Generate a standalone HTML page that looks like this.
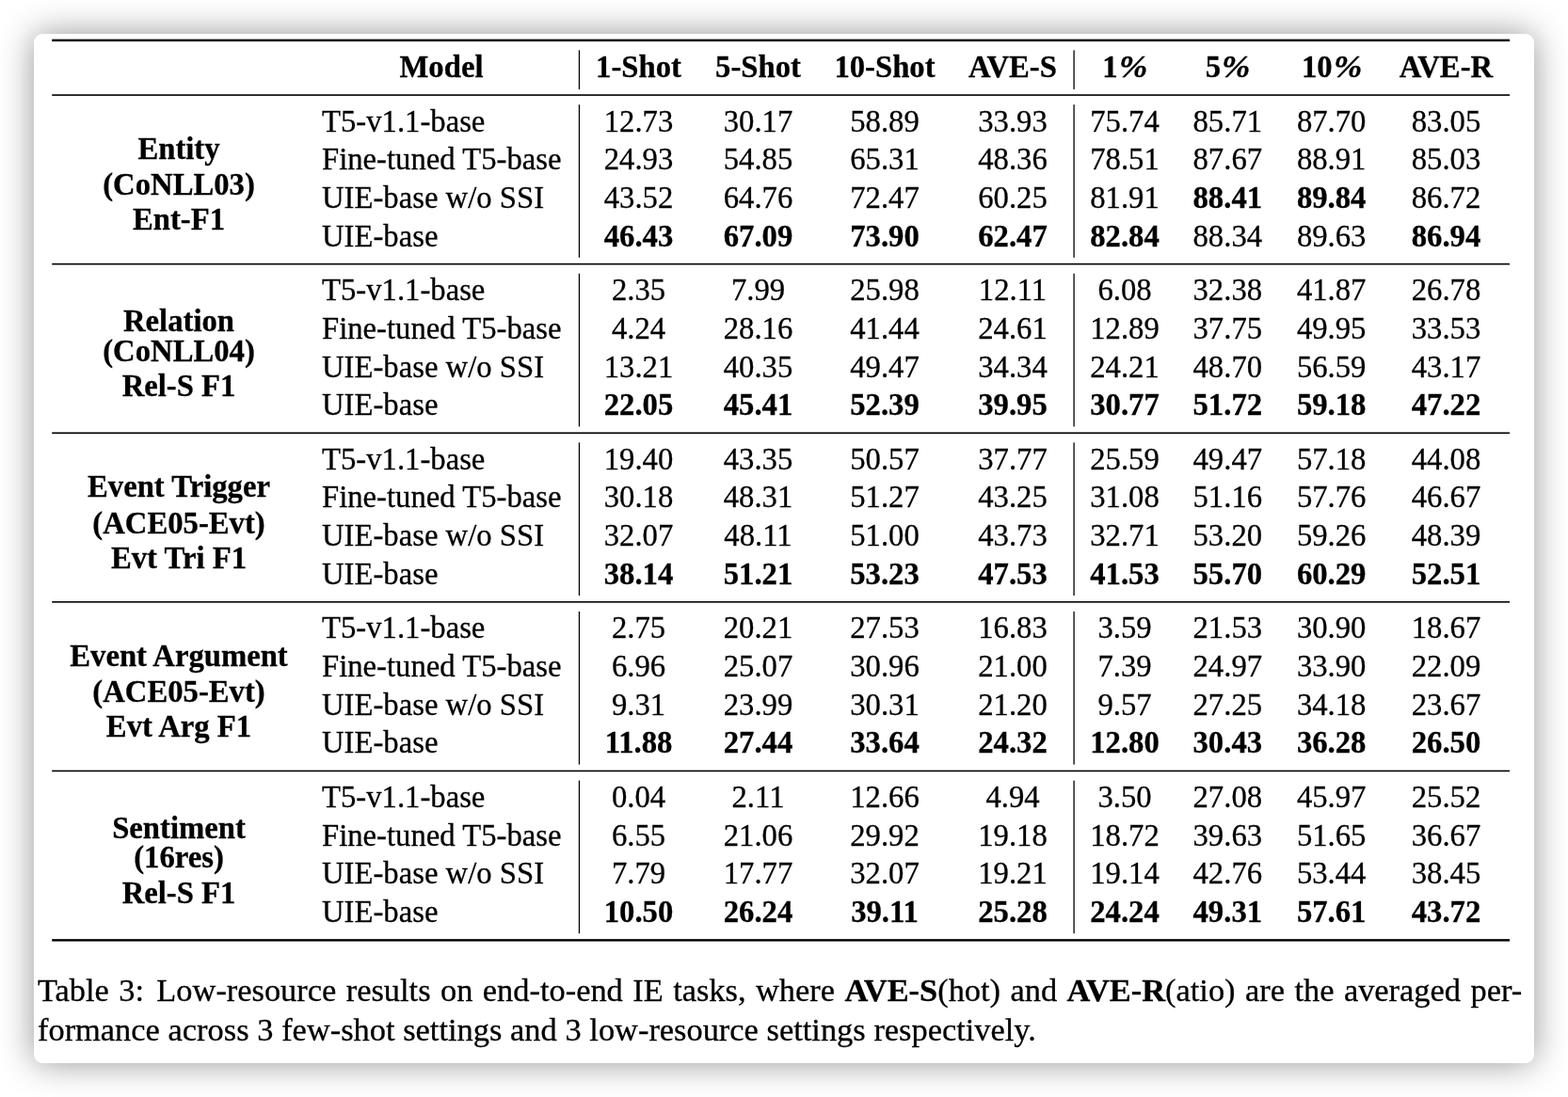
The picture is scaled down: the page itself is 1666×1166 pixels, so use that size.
<!DOCTYPE html>
<html lang="en">
<head>
<meta charset="utf-8">
<title>Table 3</title>
<style>
html,body{margin:0;padding:0;}
body{width:1666px;height:1166px;background:#fff;position:relative;overflow:hidden;
 font-family:"Liberation Serif","Times New Roman",serif;color:#000;-webkit-text-stroke:0.3px #000;}
.card{position:absolute;left:36px;top:36px;width:1594px;height:1094px;background:#fff;border-radius:9px;
 box-shadow:0 0 36px rgba(0,0,0,.42);}
.t{position:absolute;font-size:32.7px;line-height:40px;height:40px;white-space:nowrap;}
.b{font-weight:bold;}
.c{text-align:center;}
.rules{position:absolute;left:0;top:0;}
.pc{display:inline-block;font-size:1.04em;font-style:italic;margin-left:1px;margin-right:1.6px;line-height:0;transform:scaleX(1.07);transform-origin:0 50%;}
.cap{position:absolute;font-size:34.4px;line-height:44px;height:44px;white-space:nowrap;}
.cs{display:inline-block;width:2.8px;}
</style>
</head>
<body>
<div class="card"></div>
<svg class="rules" width="1666" height="1166" viewBox="0 0 1666 1166" fill="#000">
<rect x="55.2" y="41.65" width="1548.80" height="2.4"/>
<rect x="55.2" y="100.25" width="1548.80" height="1.6"/>
<rect x="55.2" y="279.85" width="1548.80" height="1.6"/>
<rect x="55.2" y="459.45" width="1548.80" height="1.6"/>
<rect x="55.2" y="639.05" width="1548.80" height="1.6"/>
<rect x="55.2" y="818.65" width="1548.80" height="1.6"/>
<rect x="55.2" y="998.15" width="1548.80" height="2.4"/>
<rect x="614.80" y="53.40" width="1.3" height="41.50"/>
<rect x="614.80" y="111.20" width="1.3" height="162.60"/>
<rect x="614.80" y="290.80" width="1.3" height="162.60"/>
<rect x="614.80" y="470.40" width="1.3" height="162.60"/>
<rect x="614.80" y="650.00" width="1.3" height="162.60"/>
<rect x="614.80" y="829.60" width="1.3" height="162.60"/>
<rect x="1140.45" y="53.40" width="1.3" height="41.50"/>
<rect x="1140.45" y="111.20" width="1.3" height="162.60"/>
<rect x="1140.45" y="290.80" width="1.3" height="162.60"/>
<rect x="1140.45" y="470.40" width="1.3" height="162.60"/>
<rect x="1140.45" y="650.00" width="1.3" height="162.60"/>
<rect x="1140.45" y="829.60" width="1.3" height="162.60"/>
</svg>
<div class="t b c" style="left:269.00px;top:50.96px;width:400px">Model</div>
<div class="t b c" style="left:478.50px;top:50.96px;width:400px">1-Shot</div>
<div class="t b c" style="left:605.50px;top:50.96px;width:400px">5-Shot</div>
<div class="t b c" style="left:740.00px;top:50.96px;width:400px">10-Shot</div>
<div class="t b c" style="left:876.00px;top:50.96px;width:400px">AVE-S</div>
<div class="t b c" style="left:995.00px;top:50.96px;width:400px">1<span class="pc">%</span></div>
<div class="t b c" style="left:1104.30px;top:50.96px;width:400px">5<span class="pc">%</span></div>
<div class="t b c" style="left:1214.70px;top:50.96px;width:400px">10<span class="pc">%</span></div>
<div class="t b c" style="left:1336.50px;top:50.96px;width:400px">AVE-R</div>
<div class="t b c" style="left:-10.00px;top:137.56px;width:400px">Entity</div>
<div class="t b c" style="left:-10.00px;top:176.16px;width:400px">(CoNLL03)</div>
<div class="t b c" style="left:-10.00px;top:213.46px;width:400px">Ent-F1</div>
<div class="t" style="left:342.00px;top:108.56px">T5-v1.1-base</div>
<div class="t c" style="left:478.50px;top:108.56px;width:400px">12.73</div>
<div class="t c" style="left:605.50px;top:108.56px;width:400px">30.17</div>
<div class="t c" style="left:740.00px;top:108.56px;width:400px">58.89</div>
<div class="t c" style="left:876.00px;top:108.56px;width:400px">33.93</div>
<div class="t c" style="left:995.00px;top:108.56px;width:400px">75.74</div>
<div class="t c" style="left:1104.30px;top:108.56px;width:400px">85.71</div>
<div class="t c" style="left:1214.70px;top:108.56px;width:400px">87.70</div>
<div class="t c" style="left:1336.50px;top:108.56px;width:400px">83.05</div>
<div class="t" style="left:342.00px;top:149.26px">Fine-tuned T5-base</div>
<div class="t c" style="left:478.50px;top:149.26px;width:400px">24.93</div>
<div class="t c" style="left:605.50px;top:149.26px;width:400px">54.85</div>
<div class="t c" style="left:740.00px;top:149.26px;width:400px">65.31</div>
<div class="t c" style="left:876.00px;top:149.26px;width:400px">48.36</div>
<div class="t c" style="left:995.00px;top:149.26px;width:400px">78.51</div>
<div class="t c" style="left:1104.30px;top:149.26px;width:400px">87.67</div>
<div class="t c" style="left:1214.70px;top:149.26px;width:400px">88.91</div>
<div class="t c" style="left:1336.50px;top:149.26px;width:400px">85.03</div>
<div class="t" style="left:342.00px;top:189.96px">UIE-base w/o SSI</div>
<div class="t c" style="left:478.50px;top:189.96px;width:400px">43.52</div>
<div class="t c" style="left:605.50px;top:189.96px;width:400px">64.76</div>
<div class="t c" style="left:740.00px;top:189.96px;width:400px">72.47</div>
<div class="t c" style="left:876.00px;top:189.96px;width:400px">60.25</div>
<div class="t c" style="left:995.00px;top:189.96px;width:400px">81.91</div>
<div class="t b c" style="left:1104.30px;top:189.96px;width:400px">88.41</div>
<div class="t b c" style="left:1214.70px;top:189.96px;width:400px">89.84</div>
<div class="t c" style="left:1336.50px;top:189.96px;width:400px">86.72</div>
<div class="t" style="left:342.00px;top:230.66px">UIE-base</div>
<div class="t b c" style="left:478.50px;top:230.66px;width:400px">46.43</div>
<div class="t b c" style="left:605.50px;top:230.66px;width:400px">67.09</div>
<div class="t b c" style="left:740.00px;top:230.66px;width:400px">73.90</div>
<div class="t b c" style="left:876.00px;top:230.66px;width:400px">62.47</div>
<div class="t b c" style="left:995.00px;top:230.66px;width:400px">82.84</div>
<div class="t c" style="left:1104.30px;top:230.66px;width:400px">88.34</div>
<div class="t c" style="left:1214.70px;top:230.66px;width:400px">89.63</div>
<div class="t b c" style="left:1336.50px;top:230.66px;width:400px">86.94</div>
<div class="t b c" style="left:-10.00px;top:320.86px;width:400px">Relation</div>
<div class="t b c" style="left:-10.00px;top:353.16px;width:400px">(CoNLL04)</div>
<div class="t b c" style="left:-10.00px;top:389.76px;width:400px">Rel-S F1</div>
<div class="t" style="left:342.00px;top:288.16px">T5-v1.1-base</div>
<div class="t c" style="left:478.50px;top:288.16px;width:400px">2.35</div>
<div class="t c" style="left:605.50px;top:288.16px;width:400px">7.99</div>
<div class="t c" style="left:740.00px;top:288.16px;width:400px">25.98</div>
<div class="t c" style="left:876.00px;top:288.16px;width:400px">12.11</div>
<div class="t c" style="left:995.00px;top:288.16px;width:400px">6.08</div>
<div class="t c" style="left:1104.30px;top:288.16px;width:400px">32.38</div>
<div class="t c" style="left:1214.70px;top:288.16px;width:400px">41.87</div>
<div class="t c" style="left:1336.50px;top:288.16px;width:400px">26.78</div>
<div class="t" style="left:342.00px;top:328.86px">Fine-tuned T5-base</div>
<div class="t c" style="left:478.50px;top:328.86px;width:400px">4.24</div>
<div class="t c" style="left:605.50px;top:328.86px;width:400px">28.16</div>
<div class="t c" style="left:740.00px;top:328.86px;width:400px">41.44</div>
<div class="t c" style="left:876.00px;top:328.86px;width:400px">24.61</div>
<div class="t c" style="left:995.00px;top:328.86px;width:400px">12.89</div>
<div class="t c" style="left:1104.30px;top:328.86px;width:400px">37.75</div>
<div class="t c" style="left:1214.70px;top:328.86px;width:400px">49.95</div>
<div class="t c" style="left:1336.50px;top:328.86px;width:400px">33.53</div>
<div class="t" style="left:342.00px;top:369.56px">UIE-base w/o SSI</div>
<div class="t c" style="left:478.50px;top:369.56px;width:400px">13.21</div>
<div class="t c" style="left:605.50px;top:369.56px;width:400px">40.35</div>
<div class="t c" style="left:740.00px;top:369.56px;width:400px">49.47</div>
<div class="t c" style="left:876.00px;top:369.56px;width:400px">34.34</div>
<div class="t c" style="left:995.00px;top:369.56px;width:400px">24.21</div>
<div class="t c" style="left:1104.30px;top:369.56px;width:400px">48.70</div>
<div class="t c" style="left:1214.70px;top:369.56px;width:400px">56.59</div>
<div class="t c" style="left:1336.50px;top:369.56px;width:400px">43.17</div>
<div class="t" style="left:342.00px;top:410.26px">UIE-base</div>
<div class="t b c" style="left:478.50px;top:410.26px;width:400px">22.05</div>
<div class="t b c" style="left:605.50px;top:410.26px;width:400px">45.41</div>
<div class="t b c" style="left:740.00px;top:410.26px;width:400px">52.39</div>
<div class="t b c" style="left:876.00px;top:410.26px;width:400px">39.95</div>
<div class="t b c" style="left:995.00px;top:410.26px;width:400px">30.77</div>
<div class="t b c" style="left:1104.30px;top:410.26px;width:400px">51.72</div>
<div class="t b c" style="left:1214.70px;top:410.26px;width:400px">59.18</div>
<div class="t b c" style="left:1336.50px;top:410.26px;width:400px">47.22</div>
<div class="t b c" style="left:-10.00px;top:497.06px;width:400px">Event Trigger</div>
<div class="t b c" style="left:-10.00px;top:535.66px;width:400px">(ACE05-Evt)</div>
<div class="t b c" style="left:-10.00px;top:572.96px;width:400px">Evt Tri F1</div>
<div class="t" style="left:342.00px;top:467.76px">T5-v1.1-base</div>
<div class="t c" style="left:478.50px;top:467.76px;width:400px">19.40</div>
<div class="t c" style="left:605.50px;top:467.76px;width:400px">43.35</div>
<div class="t c" style="left:740.00px;top:467.76px;width:400px">50.57</div>
<div class="t c" style="left:876.00px;top:467.76px;width:400px">37.77</div>
<div class="t c" style="left:995.00px;top:467.76px;width:400px">25.59</div>
<div class="t c" style="left:1104.30px;top:467.76px;width:400px">49.47</div>
<div class="t c" style="left:1214.70px;top:467.76px;width:400px">57.18</div>
<div class="t c" style="left:1336.50px;top:467.76px;width:400px">44.08</div>
<div class="t" style="left:342.00px;top:508.46px">Fine-tuned T5-base</div>
<div class="t c" style="left:478.50px;top:508.46px;width:400px">30.18</div>
<div class="t c" style="left:605.50px;top:508.46px;width:400px">48.31</div>
<div class="t c" style="left:740.00px;top:508.46px;width:400px">51.27</div>
<div class="t c" style="left:876.00px;top:508.46px;width:400px">43.25</div>
<div class="t c" style="left:995.00px;top:508.46px;width:400px">31.08</div>
<div class="t c" style="left:1104.30px;top:508.46px;width:400px">51.16</div>
<div class="t c" style="left:1214.70px;top:508.46px;width:400px">57.76</div>
<div class="t c" style="left:1336.50px;top:508.46px;width:400px">46.67</div>
<div class="t" style="left:342.00px;top:549.16px">UIE-base w/o SSI</div>
<div class="t c" style="left:478.50px;top:549.16px;width:400px">32.07</div>
<div class="t c" style="left:605.50px;top:549.16px;width:400px">48.11</div>
<div class="t c" style="left:740.00px;top:549.16px;width:400px">51.00</div>
<div class="t c" style="left:876.00px;top:549.16px;width:400px">43.73</div>
<div class="t c" style="left:995.00px;top:549.16px;width:400px">32.71</div>
<div class="t c" style="left:1104.30px;top:549.16px;width:400px">53.20</div>
<div class="t c" style="left:1214.70px;top:549.16px;width:400px">59.26</div>
<div class="t c" style="left:1336.50px;top:549.16px;width:400px">48.39</div>
<div class="t" style="left:342.00px;top:589.86px">UIE-base</div>
<div class="t b c" style="left:478.50px;top:589.86px;width:400px">38.14</div>
<div class="t b c" style="left:605.50px;top:589.86px;width:400px">51.21</div>
<div class="t b c" style="left:740.00px;top:589.86px;width:400px">53.23</div>
<div class="t b c" style="left:876.00px;top:589.86px;width:400px">47.53</div>
<div class="t b c" style="left:995.00px;top:589.86px;width:400px">41.53</div>
<div class="t b c" style="left:1104.30px;top:589.86px;width:400px">55.70</div>
<div class="t b c" style="left:1214.70px;top:589.86px;width:400px">60.29</div>
<div class="t b c" style="left:1336.50px;top:589.86px;width:400px">52.51</div>
<div class="t b c" style="left:-10.00px;top:676.66px;width:400px">Event Argument</div>
<div class="t b c" style="left:-10.00px;top:715.16px;width:400px">(ACE05-Evt)</div>
<div class="t b c" style="left:-10.00px;top:751.86px;width:400px">Evt Arg F1</div>
<div class="t" style="left:342.00px;top:647.36px">T5-v1.1-base</div>
<div class="t c" style="left:478.50px;top:647.36px;width:400px">2.75</div>
<div class="t c" style="left:605.50px;top:647.36px;width:400px">20.21</div>
<div class="t c" style="left:740.00px;top:647.36px;width:400px">27.53</div>
<div class="t c" style="left:876.00px;top:647.36px;width:400px">16.83</div>
<div class="t c" style="left:995.00px;top:647.36px;width:400px">3.59</div>
<div class="t c" style="left:1104.30px;top:647.36px;width:400px">21.53</div>
<div class="t c" style="left:1214.70px;top:647.36px;width:400px">30.90</div>
<div class="t c" style="left:1336.50px;top:647.36px;width:400px">18.67</div>
<div class="t" style="left:342.00px;top:688.06px">Fine-tuned T5-base</div>
<div class="t c" style="left:478.50px;top:688.06px;width:400px">6.96</div>
<div class="t c" style="left:605.50px;top:688.06px;width:400px">25.07</div>
<div class="t c" style="left:740.00px;top:688.06px;width:400px">30.96</div>
<div class="t c" style="left:876.00px;top:688.06px;width:400px">21.00</div>
<div class="t c" style="left:995.00px;top:688.06px;width:400px">7.39</div>
<div class="t c" style="left:1104.30px;top:688.06px;width:400px">24.97</div>
<div class="t c" style="left:1214.70px;top:688.06px;width:400px">33.90</div>
<div class="t c" style="left:1336.50px;top:688.06px;width:400px">22.09</div>
<div class="t" style="left:342.00px;top:728.76px">UIE-base w/o SSI</div>
<div class="t c" style="left:478.50px;top:728.76px;width:400px">9.31</div>
<div class="t c" style="left:605.50px;top:728.76px;width:400px">23.99</div>
<div class="t c" style="left:740.00px;top:728.76px;width:400px">30.31</div>
<div class="t c" style="left:876.00px;top:728.76px;width:400px">21.20</div>
<div class="t c" style="left:995.00px;top:728.76px;width:400px">9.57</div>
<div class="t c" style="left:1104.30px;top:728.76px;width:400px">27.25</div>
<div class="t c" style="left:1214.70px;top:728.76px;width:400px">34.18</div>
<div class="t c" style="left:1336.50px;top:728.76px;width:400px">23.67</div>
<div class="t" style="left:342.00px;top:769.46px">UIE-base</div>
<div class="t b c" style="left:478.50px;top:769.46px;width:400px">11.88</div>
<div class="t b c" style="left:605.50px;top:769.46px;width:400px">27.44</div>
<div class="t b c" style="left:740.00px;top:769.46px;width:400px">33.64</div>
<div class="t b c" style="left:876.00px;top:769.46px;width:400px">24.32</div>
<div class="t b c" style="left:995.00px;top:769.46px;width:400px">12.80</div>
<div class="t b c" style="left:1104.30px;top:769.46px;width:400px">30.43</div>
<div class="t b c" style="left:1214.70px;top:769.46px;width:400px">36.28</div>
<div class="t b c" style="left:1336.50px;top:769.46px;width:400px">26.50</div>
<div class="t b c" style="left:-10.00px;top:859.86px;width:400px">Sentiment</div>
<div class="t b c" style="left:-10.00px;top:891.46px;width:400px">(16res)</div>
<div class="t b c" style="left:-10.00px;top:929.26px;width:400px">Rel-S F1</div>
<div class="t" style="left:342.00px;top:826.96px">T5-v1.1-base</div>
<div class="t c" style="left:478.50px;top:826.96px;width:400px">0.04</div>
<div class="t c" style="left:605.50px;top:826.96px;width:400px">2.11</div>
<div class="t c" style="left:740.00px;top:826.96px;width:400px">12.66</div>
<div class="t c" style="left:876.00px;top:826.96px;width:400px">4.94</div>
<div class="t c" style="left:995.00px;top:826.96px;width:400px">3.50</div>
<div class="t c" style="left:1104.30px;top:826.96px;width:400px">27.08</div>
<div class="t c" style="left:1214.70px;top:826.96px;width:400px">45.97</div>
<div class="t c" style="left:1336.50px;top:826.96px;width:400px">25.52</div>
<div class="t" style="left:342.00px;top:867.66px">Fine-tuned T5-base</div>
<div class="t c" style="left:478.50px;top:867.66px;width:400px">6.55</div>
<div class="t c" style="left:605.50px;top:867.66px;width:400px">21.06</div>
<div class="t c" style="left:740.00px;top:867.66px;width:400px">29.92</div>
<div class="t c" style="left:876.00px;top:867.66px;width:400px">19.18</div>
<div class="t c" style="left:995.00px;top:867.66px;width:400px">18.72</div>
<div class="t c" style="left:1104.30px;top:867.66px;width:400px">39.63</div>
<div class="t c" style="left:1214.70px;top:867.66px;width:400px">51.65</div>
<div class="t c" style="left:1336.50px;top:867.66px;width:400px">36.67</div>
<div class="t" style="left:342.00px;top:908.36px">UIE-base w/o SSI</div>
<div class="t c" style="left:478.50px;top:908.36px;width:400px">7.79</div>
<div class="t c" style="left:605.50px;top:908.36px;width:400px">17.77</div>
<div class="t c" style="left:740.00px;top:908.36px;width:400px">32.07</div>
<div class="t c" style="left:876.00px;top:908.36px;width:400px">19.21</div>
<div class="t c" style="left:995.00px;top:908.36px;width:400px">19.14</div>
<div class="t c" style="left:1104.30px;top:908.36px;width:400px">42.76</div>
<div class="t c" style="left:1214.70px;top:908.36px;width:400px">53.44</div>
<div class="t c" style="left:1336.50px;top:908.36px;width:400px">38.45</div>
<div class="t" style="left:342.00px;top:949.06px">UIE-base</div>
<div class="t b c" style="left:478.50px;top:949.06px;width:400px">10.50</div>
<div class="t b c" style="left:605.50px;top:949.06px;width:400px">26.24</div>
<div class="t b c" style="left:740.00px;top:949.06px;width:400px">39.11</div>
<div class="t b c" style="left:876.00px;top:949.06px;width:400px">25.28</div>
<div class="t b c" style="left:995.00px;top:949.06px;width:400px">24.24</div>
<div class="t b c" style="left:1104.30px;top:949.06px;width:400px">49.31</div>
<div class="t b c" style="left:1214.70px;top:949.06px;width:400px">57.61</div>
<div class="t b c" style="left:1336.50px;top:949.06px;width:400px">43.72</div>
<div class="cap" id="cap1" style="left:40px;top:1029.59px;word-spacing:1.85px">Table 3:<span class="cs"></span> Low-resource results on end-to-end IE tasks, where <b>AVE-S</b>(hot) and <b>AVE-R</b>(atio) are the averaged per-</div>
<div class="cap" style="left:40px;top:1071.89px;word-spacing:0.13px">formance across 3 few-shot settings and 3 low-resource settings respectively.</div>
</body>
</html>
